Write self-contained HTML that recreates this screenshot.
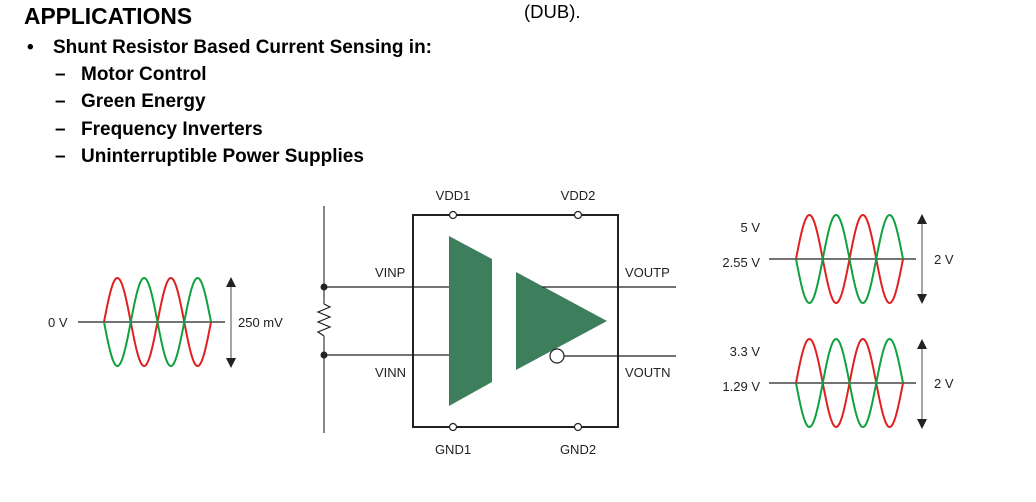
<!DOCTYPE html>
<html><head><meta charset="utf-8"><style>
body{margin:0;width:1036px;height:502px;background:#fff;overflow:hidden;font-family:"Liberation Sans",sans-serif;}
.t{position:absolute;white-space:nowrap;color:#000;}
.b{font-weight:bold;font-size:19px;}
</style></head><body>
<div class="t" style="left:24px;top:3px;font-size:22.8px;font-weight:bold;">APPLICATIONS</div>
<div class="t" style="left:524px;top:1px;font-size:18.5px;">(DUB).</div>
<div class="t b" style="left:27px;top:37px;">•</div>
<div class="t b" style="left:53px;top:37px;">Shunt Resistor Based Current Sensing in:</div>
<div class="t b" style="left:55px;top:64px;">–</div><div class="t b" style="left:81px;top:64px;">Motor Control</div>
<div class="t b" style="left:55px;top:91px;">–</div><div class="t b" style="left:81px;top:91px;">Green Energy</div>
<div class="t b" style="left:55px;top:119px;">–</div><div class="t b" style="left:81px;top:119px;">Frequency Inverters</div>
<div class="t b" style="left:55px;top:146px;">–</div><div class="t b" style="left:81px;top:146px;">Uninterruptible Power Supplies</div>
<svg id="s" width="1036" height="502" style="position:absolute;left:0;top:0" font-family="Liberation Sans, sans-serif" font-size="13" fill="#222">
<defs><marker id="ah" markerWidth="10" markerHeight="10" refX="5" refY="5" orient="auto-start-reverse" markerUnits="userSpaceOnUse"><path d="M0,0 L10,5 L0,10 z" fill="#222"/></marker></defs>
<line x1="324" y1="206" x2="324" y2="433" stroke="#888" stroke-width="2"/>
<line x1="324" y1="287" x2="449" y2="287" stroke="#222" stroke-width="1.2"/>
<line x1="324" y1="355" x2="449" y2="355" stroke="#222" stroke-width="1.2"/>
<rect x="318" y="304" width="12" height="32" fill="#fff"/>
<polyline points="324,304 330,307 318,312 330,317 318,322 330,327 318,332 324,336" fill="none" stroke="#222" stroke-width="1.2"/>
<circle cx="324" cy="287" r="3.5" fill="#222"/><circle cx="324" cy="355" r="3.5" fill="#222"/>
<rect x="413" y="215" width="205" height="212" fill="none" stroke="#222" stroke-width="2"/>
<polygon points="449,236 492,259 492,382 449,406" fill="#3d7f5c"/>
<polygon points="516,272 607,321 516,370" fill="#3d7f5c"/>
<line x1="542" y1="287" x2="676" y2="287" stroke="#222" stroke-width="1.2"/>
<line x1="564" y1="356" x2="676" y2="356" stroke="#222" stroke-width="1.2"/>
<circle cx="557" cy="356" r="7" fill="#fff" stroke="#222" stroke-width="1.2"/>
<g fill="#fff" stroke="#222" stroke-width="1.2"><circle cx="453" cy="215" r="3.5"/><circle cx="578" cy="215" r="3.5"/><circle cx="453" cy="427" r="3.5"/><circle cx="578" cy="427" r="3.5"/></g>
<text x="453" y="200" text-anchor="middle">VDD1</text><text x="578" y="200" text-anchor="middle">VDD2</text>
<text x="453" y="454" text-anchor="middle">GND1</text><text x="578" y="454" text-anchor="middle">GND2</text>
<text x="375" y="277">VINP</text><text x="375" y="377">VINN</text>
<text x="625" y="277">VOUTP</text><text x="625" y="377">VOUTN</text>
<line x1="78" y1="322" x2="225" y2="322" stroke="#222" stroke-width="1.2"/>
<line x1="231" y1="282" x2="231" y2="363" stroke="#888" stroke-width="1.5" marker-start="url(#ah)" marker-end="url(#ah)"/>
<text x="48" y="327">0 V</text><text x="238" y="327">250 mV</text>
<line x1="769" y1="259" x2="916" y2="259" stroke="#222" stroke-width="1.2"/>
<line x1="922" y1="219" x2="922" y2="299" stroke="#888" stroke-width="1.5" marker-start="url(#ah)" marker-end="url(#ah)"/>
<text x="760" y="232" text-anchor="end">5 V</text><text x="760" y="267" text-anchor="end">2.55 V</text><text x="934" y="264">2 V</text>
<line x1="769" y1="383" x2="916" y2="383" stroke="#222" stroke-width="1.2"/>
<line x1="922" y1="344" x2="922" y2="424" stroke="#888" stroke-width="1.5" marker-start="url(#ah)" marker-end="url(#ah)"/>
<text x="760" y="356" text-anchor="end">3.3 V</text><text x="760" y="391" text-anchor="end">1.29 V</text><text x="934" y="388">2 V</text>
<g id="w"></g>
</svg>
<script>
function wave(x0,x1,yc,a){
  var g=document.getElementById('w');
  [['#e02020',1],['#10a040',-1]].forEach(function(c){
    var d='';for(var i=0;i<=200;i++){var x=x0+(x1-x0)*i/200;var y=yc-c[1]*a*Math.sin(2*Math.PI*2*i/200);d+=(i?'L':'M')+x.toFixed(2)+','+y.toFixed(2);}
    var p=document.createElementNS('http://www.w3.org/2000/svg','path');p.setAttribute('d',d);p.setAttribute('fill','none');p.setAttribute('stroke',c[0]);p.setAttribute('stroke-width','2');g.appendChild(p);
  });
}
wave(104,211,322,44);wave(796,903,259,44);wave(796,903,383,44);
</script>
</body></html>
